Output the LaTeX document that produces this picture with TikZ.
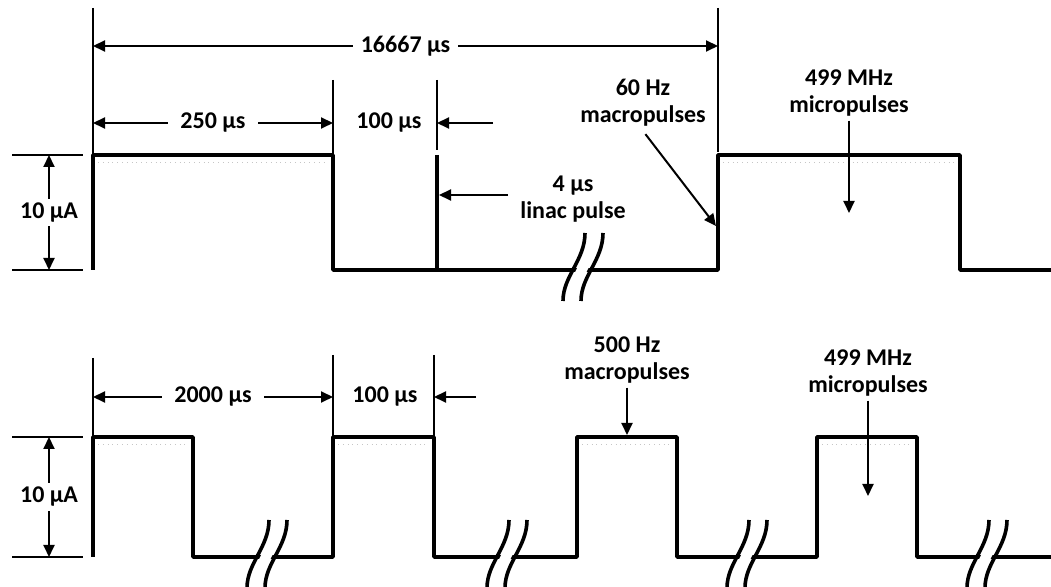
\documentclass[tikz,border=0pt]{standalone}
\usepackage{fontspec}
\setmainfont{Carlito}
\usetikzlibrary{arrows.meta}
\tikzset{
  pulse/.style = {line width=1.7pt, line join=round},
  dim/.style = {line width=1pt, {Triangle[length=6pt,width=5.5pt]}-{Triangle[length=6pt,width=5.5pt]}},
  ptr/.style = {line width=1pt, -{Triangle[length=6pt,width=5.5pt]}},
  ext/.style = {line width=0.6pt},
  micro/.style = {gray!45, line width=0.4pt, dotted},
  lbl/.style = {font=\bfseries\fontsize{12}{13.5}\selectfont, fill=white, inner xsep=4pt, inner ysep=2pt, align=center},
  brk/.pic = {
    \draw[white, line width=5pt] (13,-37) .. controls (13,-10) and (-9,6) .. (-9,31);
    \draw[line width=1.8pt] (4,-37) .. controls (4,-10) and (-18,6) .. (-18,31);
    \draw[line width=1.8pt] (22,-37) .. controls (22,-10) and (0,6) .. (0,31);
  }
}

\begin{document}
\begin{tikzpicture}[x=0.5pt, y=-0.5pt]
            \useasboundingbox (0,0) rectangle (1051,587);

            \coordinate (t0) at (93,46);
            \coordinate (t1) at (718,46);
            \coordinate (a0) at (93,123);
            \coordinate (a1) at (333,123);
            \coordinate (a2) at (437,123);
            \coordinate (a3) at (493,123);
            \coordinate (h0) at (49,155);
            \coordinate (h1) at (49,270);
            \coordinate (lp0) at (508,195);
            \coordinate (lp1) at (439,195);
            \coordinate (m60) at (716,226);
            \coordinate (mu1) at (849,213);

            \draw[ext] (93,8) -- (93,155);
            \draw[ext] (718,8) -- (718,152);
            \draw[ext] (333,80) -- (333,155);
            \draw[ext] (437,80) -- (437,150);
            \draw[ext] (12,155) -- (83,155);
            \draw[ext] (12,270) -- (83,270);

            \draw[micro] (98,162) -- (328,162);
            \draw[micro] (723,162) -- (955,162);
            \draw[pulse] (93,270) |- (333,155) |- (718,270) |- (960,155) |- (1051,270);
            \draw[pulse] (437,155) -- (437,270);
            \pic at (581,270) {brk};

            \draw[dim] (t0) -- node[lbl] (lTotal) {16667 µs} (t1);
            \draw[dim] (a0) -- node[lbl, inner xsep=6pt] (lMacroA) {250 µs} (a1);
            \node[lbl] (lGapA) at (389,123) {100 µs};
            \draw[ptr] (a3) -- (a2);
            \draw[dim] (h0) -- node[lbl] (lAmpA) {10 µA} (h1);
            \node[lbl] (lLinac) at (573,199) {4 µs\\linac pulse};
            \draw[ptr] (lp0) -- (lp1);
            \node[lbl] (lRepA) at (643,103) {60 Hz\\macropulses};
            \draw[ptr, shorten <=2pt] (lRepA.south) -- (m60);
            \node[lbl] (lMicroA) at (849,93) {499 MHz\\micropulses};
            \draw[ptr] (lMicroA.south) -- (mu1);

            \coordinate (b0) at (93,397);
            \coordinate (b1) at (333,397);
            \coordinate (b2) at (434,397);
            \coordinate (b3) at (476,397);
            \coordinate (k0) at (49,437);
            \coordinate (k1) at (49,557);
            \coordinate (m500) at (627,435);
            \coordinate (mu2) at (868,496);

            \draw[ext] (93,358) -- (93,437);
            \draw[ext] (333,355) -- (333,437);
            \draw[ext] (434,355) -- (434,437);
            \draw[ext] (12,437) -- (83,437);
            \draw[ext] (12,557) -- (83,557);

            \foreach \x in {93,333,577,817}
              \draw[micro] (\x+5,444) -- (\x+95,444);
            \draw[pulse] (93,557) |- (193,437) |- (333,557) |- (434,437) |- (577,557)
              |- (677,437) |- (817,557) |- (917,437) |- (1051,557);
            \foreach \x in {265,505,745,985}
              \pic at (\x,557) {brk};

            \draw[dim] (b0) -- node[lbl, inner xsep=6pt] (lMacroB) {2000 µs} (b1);
            \node[lbl] (lGapB) at (385,397) {100 µs};
            \draw[ptr] (b3) -- (b2);
            \draw[dim] (k0) -- node[lbl] (lAmpB) {10 µA} (k1);
            \node[lbl] (lRepB) at (627,360) {500 Hz\\macropulses};
            \draw[ptr] (lRepB.south) -- (m500);
            \node[lbl] (lMicroB) at (868,373) {499 MHz\\micropulses};
            \draw[ptr] (lMicroB.south) -- (mu2);
        \end{tikzpicture}
\end{document}
